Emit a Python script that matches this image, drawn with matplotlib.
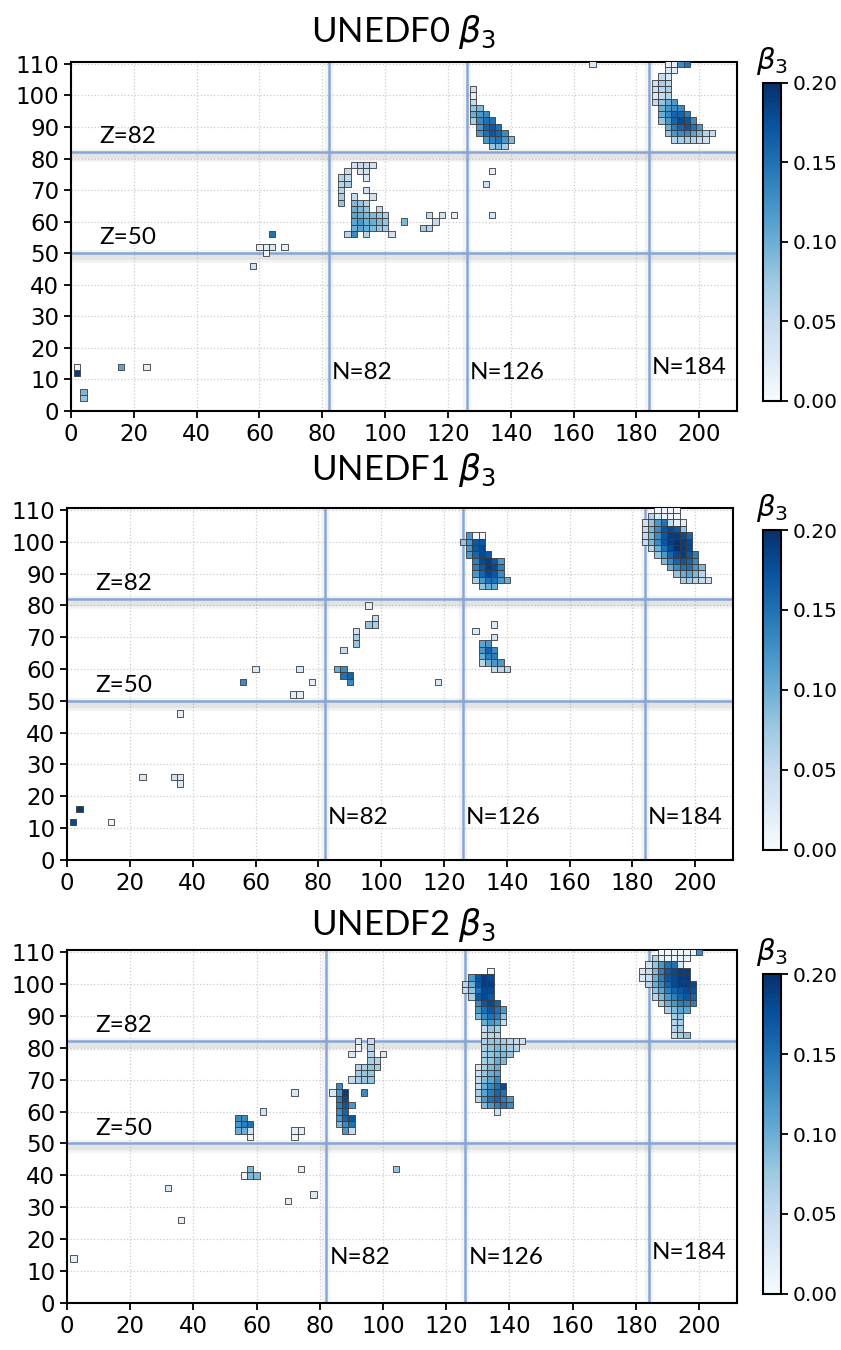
import numpy as np
import matplotlib
matplotlib.use('Agg')
import matplotlib.pyplot as plt
import matplotlib.patheffects as pe
from matplotlib.patches import Rectangle
from matplotlib.collections import PatchCollection
from matplotlib.colors import Normalize

TITLES = ['UNEDF0', 'UNEDF1', 'UNEDF2']
MAGIC_Z = [50, 82]
MAGIC_N = [82, 126, 184]
CBAR_TICKS = [0.00, 0.05, 0.10, 0.15, 0.20]
X_TICKS = list(range(0, 201, 20))
Y_TICKS = list(range(0, 111, 10))

# each row: (Z, first N, beta3 values for N, N+2, N+4, ...)
UNEDF0_ROWS = [
    (12, 2, [0.19]), (14, 2, [0.01]), (6, 4, [0.09]), (4, 4, [0.08]),
    (14, 16, [0.11]), (14, 24, [0.02]),
    (56, 64, [0.15]), (52, 60, [0.02, 0.02, 0.03]), (52, 68, [0.02]),
    (50, 62, [0.01]), (46, 58, [0.04]),
    (78, 90, [0.04, 0.05, 0.05, 0.04]),
    (76, 88, [0.05]), (76, 92, [0.04, 0.04]),
    (74, 86, [0.06, 0.05]), (74, 94, [0.03]),
    (72, 86, [0.06, 0.07]),
    (70, 86, [0.06]), (70, 94, [0.04]),
    (68, 86, [0.07]), (68, 90, [0.05]), (68, 96, [0.04]),
    (66, 86, [0.08]), (66, 90, [0.09, 0.08, 0.06]),
    (64, 90, [0.10, 0.09, 0.08]), (64, 98, [0.05]),
    (62, 90, [0.11, 0.10, 0.09, 0.09, 0.08, 0.07]),
    (60, 90, [0.11, 0.12, 0.10, 0.10, 0.09, 0.08]),
    (58, 90, [0.10, 0.11, 0.10, 0.09, 0.08, 0.07]),
    (56, 88, [0.06, 0.13]), (56, 94, [0.06]), (56, 102, [0.04]),
    (60, 106, [0.09]), (62, 114, [0.05]), (62, 118, [0.04]), (62, 122, [0.02]),
    (60, 116, [0.05]), (58, 112, [0.07, 0.06]),
    (76, 134, [0.02]), (72, 132, [0.04]), (62, 134, [0.03]),
    (102, 128, [0.04]), (100, 128, [0.02]), (98, 128, [0.05]),
    (96, 128, [0.08, 0.09]),
    (94, 128, [0.10, 0.12, 0.13]),
    (92, 128, [0.07, 0.13, 0.15, 0.15]),
    (90, 130, [0.12, 0.16, 0.17, 0.15]),
    (88, 130, [0.12, 0.15, 0.17, 0.16, 0.13]),
    (86, 132, [0.12, 0.14, 0.15, 0.12, 0.09]),
    (84, 134, [0.08, 0.09, 0.07]),
    (110, 166, [0.03]),
    (110, 190, [0.02, 0.02, 0.13, 0.15]),
    (108, 190, [0.03, 0.02]),
    (106, 188, [0.05, 0.03]),
    (104, 186, [0.04, 0.07, 0.06]),
    (102, 186, [0.04, 0.06, 0.07]),
    (100, 186, [0.03, 0.05, 0.06]),
    (98, 186, [0.05, 0.08, 0.10, 0.12]),
    (96, 188, [0.10, 0.12, 0.13, 0.13]),
    (94, 188, [0.10, 0.13, 0.16, 0.16, 0.14]),
    (92, 188, [0.08, 0.12, 0.16, 0.18, 0.17, 0.13]),
    (90, 190, [0.10, 0.14, 0.16, 0.17, 0.15, 0.12]),
    (88, 190, [0.08, 0.12, 0.13, 0.13, 0.11, 0.09, 0.06, 0.05]),
    (86, 192, [0.06, 0.07, 0.07, 0.06, 0.05, 0.04]),
]

UNEDF1_ROWS = [
    (12, 2, [0.18]), (16, 4, [0.19]), (12, 14, [0.01]),
    (26, 24, [0.03]), (26, 34, [0.04, 0.03]), (24, 36, [0.03]), (46, 36, [0.02]),
    (56, 56, [0.13]), (60, 60, [0.03]), (60, 74, [0.03]), (56, 78, [0.02]),
    (52, 72, [0.02, 0.02]),
    (80, 96, [0.02]), (76, 98, [0.05]), (74, 96, [0.08, 0.07]),
    (72, 92, [0.04]), (70, 92, [0.07]), (68, 92, [0.08]), (66, 88, [0.05]),
    (60, 86, [0.10, 0.13]), (58, 88, [0.15, 0.16]), (56, 90, [0.13]),
    (56, 118, [0.03]),
    (72, 130, [0.03]), (74, 136, [0.03]), (70, 136, [0.04]),
    (68, 132, [0.11, 0.12]),
    (66, 132, [0.12, 0.16, 0.13]),
    (64, 132, [0.10, 0.14, 0.14]),
    (62, 132, [0.06, 0.10, 0.12, 0.12]),
    (60, 136, [0.05, 0.06, 0.06]),
    (102, 128, [0.12, 0.01, 0.01]),
    (100, 126, [0.08, 0.12, 0.17, 0.17]),
    (98, 128, [0.12, 0.17, 0.18]),
    (96, 128, [0.12, 0.16, 0.18, 0.17]),
    (94, 130, [0.14, 0.18, 0.19, 0.17, 0.12]),
    (92, 130, [0.14, 0.17, 0.19, 0.18, 0.14]),
    (90, 130, [0.12, 0.16, 0.18, 0.17, 0.13]),
    (88, 130, [0.07, 0.12, 0.15, 0.15, 0.12, 0.10]),
    (86, 132, [0.08, 0.10, 0.10]),
    (110, 188, [0.01, 0.01, 0.01, 0.01]),
    (108, 186, [0.06, 0.03, 0.01, 0.01, 0.01]),
    (106, 184, [0.04, 0.08, 0.12, 0.15, 0.05, 0.02, 0.02]),
    (104, 184, [0.05, 0.09, 0.13, 0.17, 0.18, 0.17, 0.08]),
    (102, 184, [0.05, 0.09, 0.13, 0.17, 0.19, 0.19, 0.18, 0.16]),
    (100, 184, [0.05, 0.09, 0.13, 0.17, 0.19, 0.20, 0.19, 0.18]),
    (98, 186, [0.06, 0.10, 0.15, 0.18, 0.20, 0.19, 0.18]),
    (96, 188, [0.08, 0.12, 0.16, 0.18, 0.19, 0.17, 0.14]),
    (94, 190, [0.09, 0.13, 0.16, 0.17, 0.16, 0.13]),
    (92, 192, [0.10, 0.13, 0.15, 0.15, 0.12, 0.09]),
    (90, 194, [0.08, 0.10, 0.11, 0.09, 0.06]),
    (88, 196, [0.07, 0.07, 0.06, 0.05, 0.04]),
]

UNEDF2_ROWS = [
    (14, 2, [0.02]), (26, 36, [0.02]), (36, 32, [0.03]),
    (32, 70, [0.02]), (34, 78, [0.03]),
    (42, 58, [0.09]), (40, 56, [0.01, 0.09, 0.09]),
    (42, 74, [0.02]), (42, 104, [0.08]),
    (58, 54, [0.13, 0.13]), (56, 54, [0.12, 0.14, 0.15]),
    (54, 54, [0.10, 0.10, 0.04]), (52, 58, [0.01]),
    (60, 62, [0.04]), (66, 72, [0.03]),
    (54, 72, [0.02, 0.02]), (52, 72, [0.01]),
    (68, 86, [0.13]),
    (66, 84, [0.03, 0.12, 0.19]),
    (64, 86, [0.14, 0.18]),
    (62, 86, [0.14, 0.17, 0.12]),
    (60, 86, [0.13, 0.16]),
    (58, 86, [0.12, 0.16, 0.17]),
    (56, 86, [0.09, 0.13, 0.15]),
    (54, 88, [0.12, 0.05]),
    (66, 94, [0.13]),
    (82, 92, [0.03]), (82, 96, [0.05]),
    (80, 92, [0.01]), (80, 96, [0.06]),
    (78, 90, [0.03]), (78, 96, [0.06]), (78, 100, [0.03]),
    (76, 96, [0.07, 0.06]),
    (74, 92, [0.06, 0.07, 0.08, 0.07]),
    (72, 92, [0.07, 0.08, 0.08]),
    (70, 90, [0.05, 0.07, 0.08, 0.08]),
    (104, 134, [0.01]),
    (102, 128, [0.12, 0.17, 0.19, 0.18]),
    (100, 126, [0.06, 0.10, 0.17, 0.19, 0.19]),
    (98, 126, [0.05, 0.08, 0.15, 0.18, 0.18]),
    (96, 128, [0.07, 0.17, 0.18, 0.17]),
    (94, 130, [0.13, 0.17, 0.18, 0.16]),
    (92, 130, [0.12, 0.15, 0.17, 0.15, 0.12]),
    (90, 130, [0.09, 0.13, 0.15, 0.14, 0.08]),
    (88, 132, [0.10, 0.12, 0.11, 0.05]),
    (86, 132, [0.05, 0.08, 0.07]),
    (84, 132, [0.05, 0.06, 0.06]),
    (82, 132, [0.07, 0.08, 0.08, 0.07, 0.06, 0.05, 0.04]),
    (80, 132, [0.07, 0.08, 0.09, 0.08, 0.07, 0.06]),
    (78, 132, [0.07, 0.08, 0.09, 0.09, 0.08]),
    (76, 132, [0.07, 0.08, 0.10, 0.09]),
    (74, 130, [0.03, 0.07, 0.09, 0.10]),
    (72, 130, [0.04, 0.08, 0.10, 0.11]),
    (70, 130, [0.05, 0.09, 0.11, 0.13]),
    (68, 130, [0.05, 0.10, 0.13, 0.15, 0.18]),
    (66, 130, [0.07, 0.11, 0.14, 0.16, 0.15]),
    (64, 130, [0.06, 0.12, 0.15, 0.16, 0.14, 0.12]),
    (62, 132, [0.09, 0.12, 0.14, 0.15, 0.13]),
    (60, 136, [0.04]),
    (110, 188, [0.01, 0.01, 0.01, 0.01, 0.01, 0.01, 0.13]),
    (108, 186, [0.06, 0.02, 0.01, 0.01, 0.01, 0.01]),
    (106, 184, [0.04, 0.08, 0.12, 0.15, 0.15, 0.03]),
    (104, 182, [0.03, 0.05, 0.09, 0.14, 0.17, 0.18, 0.19, 0.19]),
    (102, 182, [0.03, 0.05, 0.10, 0.14, 0.17, 0.18, 0.19, 0.19]),
    (100, 184, [0.06, 0.10, 0.13, 0.16, 0.18, 0.19, 0.19, 0.18]),
    (98, 186, [0.08, 0.11, 0.14, 0.16, 0.17, 0.18, 0.17]),
    (96, 186, [0.06, 0.09, 0.12, 0.14, 0.16, 0.17, 0.16]),
    (94, 188, [0.07, 0.10, 0.12, 0.14, 0.14, 0.14]),
    (92, 190, [0.07, 0.09, 0.11, 0.11]),
    (90, 192, [0.07, 0.08]),
    (88, 192, [0.06, 0.07]),
    (86, 192, [0.06, 0.07]),
    (84, 192, [0.05, 0.07, 0.08]),
]

PANEL_ROWS = [UNEDF0_ROWS, UNEDF1_ROWS, UNEDF2_ROWS]

# layout in figure fractions (841 x 1350 px)
AX_RECTS = [
    [0.0844, 0.6956, 0.7919, 0.2585],
    [0.0797, 0.3630, 0.7919, 0.2607],
    [0.0797, 0.0348, 0.7967, 0.2615],
]
CAX_RECTS = [
    [0.9073, 0.7030, 0.0214, 0.2356],
    [0.9073, 0.3704, 0.0214, 0.2370],
    [0.9073, 0.0415, 0.0214, 0.2370],
]
TITLE_Y = [0.976, 0.652, 0.315]
N_LABEL_Z = [(9, 9, 10.5), (10, 10, 10), (11, 11, 12.5)]

LINE_COLOR = '#86a7d6'
cmap = plt.get_cmap('Blues')
norm = Normalize(vmin=0.0, vmax=0.2)


def expand_rows(rows):
    ns, zs, bs = [], [], []
    for z, n0, vals in rows:
        for i, b in enumerate(vals):
            ns.append(n0 + 2 * i)
            zs.append(z)
            bs.append(b)
    return np.array(ns), np.array(zs), np.array(bs)


fig = plt.figure(figsize=(8.41, 13.5), dpi=100)

for k, rows in enumerate(PANEL_ROWS):
    ax = fig.add_axes(AX_RECTS[k])
    ns, zs, bs = expand_rows(rows)

    ax.grid(True, color='#cccccc', linestyle=':', linewidth=0.9, zorder=0)
    ax.set_axisbelow(True)

    shadow = [pe.SimpleLineShadow(offset=(0, -2), shadow_color='#999999', alpha=0.12, linewidth=9),
              pe.SimpleLineShadow(offset=(0, -2), shadow_color='#999999', alpha=0.15, linewidth=5),
              pe.Normal()]
    for z in MAGIC_Z:
        ax.axhline(z, color=LINE_COLOR, linewidth=1.8, zorder=1, path_effects=shadow)
    vshadow = [pe.SimpleLineShadow(offset=(0, 0), shadow_color='#999999', alpha=0.1, linewidth=6),
               pe.Normal()]
    for n in MAGIC_N:
        ax.axvline(n, color=LINE_COLOR, linewidth=1.8, zorder=1, path_effects=vshadow)

    squares = [Rectangle((n - 1, z - 1), 2, 2) for n, z in zip(ns, zs)]
    pc = PatchCollection(squares, cmap=cmap, norm=norm, edgecolor='#3a3a3a',
                         linewidth=0.6, zorder=3)
    pc.set_array(bs)
    ax.add_collection(pc)

    ax.set_xlim(0, 212)
    ax.set_ylim(0, 110.6)
    ax.set_xticks(X_TICKS)
    ax.set_yticks(Y_TICKS)
    ax.tick_params(labelsize=16.5, width=1.3, length=5)
    for lab in ax.get_xticklabels() + ax.get_yticklabels():
        lab.set_family('DejaVu Sans')
    for sp in ax.spines.values():
        sp.set_linewidth(1.5)

    ax.text(9, 83.5, 'Z=82', fontsize=17.5, family='Lato', va='bottom', zorder=4)
    ax.text(9, 51.5, 'Z=50', fontsize=17.5, family='Lato', va='bottom', zorder=4)
    for n, zl in zip(MAGIC_N, N_LABEL_Z[k]):
        ax.text(n + 1, zl, f'N={n}', fontsize=17.5, family='Lato', va='bottom', zorder=4)

    fig.text(0.48, TITLE_Y[k], f'{TITLES[k]} $\\beta_3$', fontsize=25, family='Lato',
             ha='center', va='center')

    cax = fig.add_axes(CAX_RECTS[k])
    cb = fig.colorbar(pc, cax=cax, ticks=CBAR_TICKS)
    cb.ax.set_yticklabels([f'{t:.2f}' for t in CBAR_TICKS])
    cb.ax.tick_params(labelsize=14.5, width=1.3, length=5)
    cb.outline.set_linewidth(1.5)
    cax.set_title('$\\beta_3$', fontsize=21, pad=10)

fig.savefig('out.png', dpi=100)
